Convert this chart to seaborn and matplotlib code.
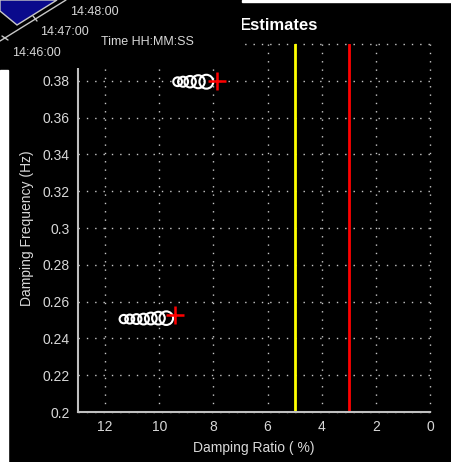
import numpy as np
import pandas as pd
import matplotlib
matplotlib.use('Agg')
import matplotlib.pyplot as plt
from matplotlib.patches import Polygon, Rectangle
import seaborn as sns

# upper mode estimates (damping ratio %, frequency Hz, marker size)
upper_ratio = [9.32, 9.12, 8.86, 8.56, 8.26]
upper_freq = [0.3795, 0.3795, 0.3795, 0.3795, 0.3795]
upper_size = [40, 52, 68, 88, 100]

# lower mode estimates
lower_ratio = [11.31, 11.09, 10.84, 10.58, 10.31, 10.03, 9.74]
lower_freq = [0.2505, 0.2505, 0.2505, 0.2505, 0.2508, 0.2510, 0.2510]
lower_size = [36, 42, 50, 60, 72, 84, 96]

# latest estimates (red crosses)
latest_ratio = [7.85, 9.43]
latest_freq = [0.38, 0.2527]

# threshold lines
warn_level = 5.0
alarm_level = 3.0

x_ticks = [0, 2, 4, 6, 8, 10, 12]
y_ticks = [0.2, 0.22, 0.24, 0.26, 0.28, 0.3, 0.32, 0.34, 0.36, 0.38, 0.4]
time_labels = ['14:46:00', '14:47:00', '14:48:00']

sns.set_style('dark')
plt.rcParams['font.family'] = ['Liberation Sans', 'DejaVu Sans']

W, H = 452, 462
fig = plt.figure(figsize=(W / 100, H / 100), dpi=100, facecolor='black')
ax = fig.add_axes([78 / W, 1 - 412 / H, (430 - 78) / W, (412 - 44) / H])
ax.set_facecolor('black')

pts = pd.DataFrame({
    'ratio': upper_ratio + lower_ratio,
    'freq': upper_freq + lower_freq,
    'size': upper_size + lower_size,
})
lo, hi = min(pts['size']), max(pts['size'])
sns.scatterplot(data=pts, x='ratio', y='freq', size='size', sizes=(lo, hi), size_norm=(lo, hi),
                facecolor='none', edgecolor='white', linewidth=1.5, legend=False, ax=ax, zorder=3)
last = pd.DataFrame({'ratio': latest_ratio, 'freq': latest_freq})
sns.scatterplot(data=last, x='ratio', y='freq', marker='+', s=160, color='#ff0000',
                linewidth=1.8, legend=False, ax=ax, zorder=4)

ax.axvline(warn_level, color='#ffff00', lw=2, zorder=2)
ax.axvline(alarm_level, color='#ff0000', lw=2, zorder=2)

ax.set_xlim(13, 0)
ax.set_ylim(0.2, 0.4)
ax.set_xticks(x_ticks)
ax.set_xticklabels([str(t) for t in x_ticks])
ax.set_yticks(y_ticks)
# the 0.4 label sits under the time panel, so it is left blank
ax.set_yticklabels([f'{t:g}' if t < 0.39 else '' for t in y_ticks])
ax.tick_params(direction='in', length=4, width=1, color='#c0c0c0', labelcolor='#d8d8d8',
               labelsize=10, pad=6)
ax.grid(True, color='#c8c8c8', linestyle=(0, (1, 5)), linewidth=1)
for g in ax.get_xgridlines() + ax.get_ygridlines():
    g.set_clip_on(False)
for s in ['top', 'right']:
    ax.spines[s].set_visible(False)
for s in ['left', 'bottom']:
    ax.spines[s].set_color('#c0c0c0')
    ax.spines[s].set_linewidth(1.5)
ax.set_xlabel('Damping Ratio ( %)', color='#d8d8d8', fontsize=10, labelpad=5)
ax.set_ylabel('Damping Frequency (Hz)', color='#d8d8d8', fontsize=10, labelpad=6)

fig.text(240 / W, 1 - 25 / H, 'Estimates', color='white', fontsize=12, fontweight='bold',
         ha='left', va='center')

# overlapping 3D time axis panel in the top-left corner
ov = fig.add_axes([0, 1 - 68 / H, 242 / W, 68 / H], zorder=5)
ov.set_facecolor('black')
ov.set_xlim(0, 242)
ov.set_ylim(68, 0)
ov.set_axis_off()
ov.add_patch(Rectangle((0, 0), 242, 68, color='black', zorder=0))
ov.add_patch(Polygon([(0, 0), (57, 0), (17, 25), (0, 11)], closed=True,
                     facecolor='#0a0a8c', edgecolor='#c8c8c8', lw=1, zorder=1))
ov.plot([0, 66], [41, 0], color='#c8c8c8', lw=1, zorder=2)
ov.plot([2, 8], [36, 40], color='#c8c8c8', lw=1)
ov.plot([33, 37], [16, 21], color='#c8c8c8', lw=1)
for lab, (tx, ty) in zip(time_labels, [(12, 53), (40, 32), (70, 12)]):
    ov.text(tx, ty, lab, color='#d8d8d8', fontsize=9, ha='left', va='center')
ov.text(101, 42, 'Time HH:MM:SS', color='#d8d8d8', fontsize=9, ha='left', va='center')

# window frame fragments
fig.patches.append(Rectangle((0, 0), 8 / W, 1 - 70 / H, transform=fig.transFigure,
                             color='white', zorder=6))
fig.patches.append(Rectangle((242 / W, 1 - 2 / H), 1 - 242 / W, 2 / H, transform=fig.transFigure,
                             color='white', zorder=6))

fig.savefig('out.png', dpi=100, facecolor='black')
